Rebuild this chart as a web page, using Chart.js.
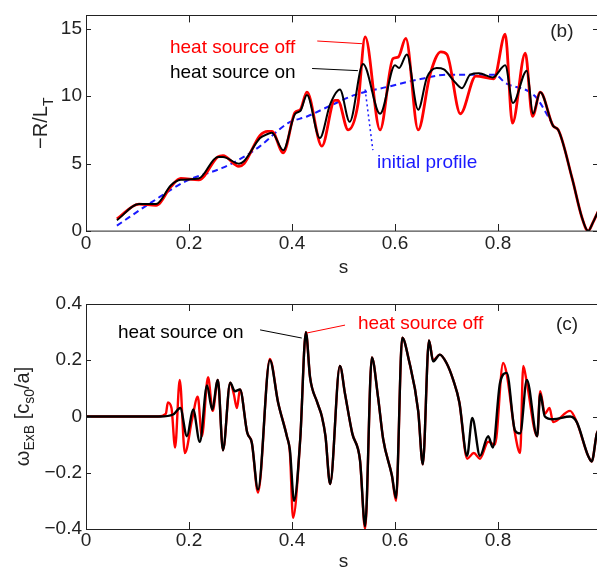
<!DOCTYPE html>
<html>
<head>
<meta charset="utf-8">
<script src="https://cdn.jsdelivr.net/npm/chart.js@4.4.0/dist/chart.umd.min.js"></script>
<style>
  html, body { margin: 0; padding: 0; background: #fff; overflow: hidden; width: 597px; height: 569px; }
  canvas { position: absolute; left: 0; }
  #top { top: 0; }
  #bottom { top: 285px; }
</style>
</head>
<body>
<canvas id="top" width="605" height="285"></canvas>
<canvas id="bottom" width="605" height="290"></canvas>
<script>
// (b) normalised temperature gradient -R/L_T against s
const offS = [0.06, 0.103, 0.136, 0.165, 0.184, 0.219, 0.256, 0.266, 0.297, 0.307, 0.338, 0.353, 0.361, 0.383, 0.406, 0.416, 0.429, 0.458, 0.483, 0.489, 0.509, 0.528, 0.542, 0.571, 0.596, 0.606, 0.621, 0.645, 0.668, 0.689, 0.701, 0.727, 0.757, 0.792, 0.814, 0.828, 0.853, 0.867, 0.882, 0.907, 0.917, 0.944, 0.963, 0.975, 0.984, 0.995];
const offRLT = [0.9, 2.0, 1.9, 3.3, 3.9, 3.8, 5.5, 5.6, 4.8, 5.0, 7.1, 7.4, 7.4, 5.8, 8.8, 9.0, 10.3, 6.3, 9.7, 9.7, 7.5, 9.4, 14.4, 7.5, 12.8, 12.9, 14.3, 7.5, 11.6, 13.3, 13.1, 8.7, 11.5, 11.3, 14.6, 8.0, 13.2, 8.5, 10.3, 7.8, 7.5, 3.9, 1.0, 0, 0.6, 1.5];

const onS = [0.06, 0.103, 0.136, 0.165, 0.184, 0.219, 0.256, 0.266, 0.297, 0.307, 0.338, 0.353, 0.361, 0.383, 0.406, 0.416, 0.429, 0.454, 0.474, 0.493, 0.512, 0.538, 0.571, 0.600, 0.608, 0.623, 0.645, 0.662, 0.681, 0.695, 0.713, 0.730, 0.746, 0.763, 0.790, 0.814, 0.829, 0.856, 0.868, 0.882, 0.907, 0.917, 0.944, 0.963, 0.975, 0.984, 0.995];
const onRLT = [0.8, 2.0, 2.0, 3.4, 3.8, 3.9, 5.5, 5.5, 5.0, 5.2, 6.9, 7.2, 7.3, 6.0, 8.7, 8.9, 10.1, 6.9, 9.4, 10.5, 8.1, 12.4, 8.7, 12.3, 12.1, 13.1, 9.0, 11.4, 12.1, 12.0, 11.2, 10.6, 11.6, 11.7, 11.4, 12.3, 9.5, 11.9, 8.7, 10.3, 7.8, 7.5, 3.9, 1.0, 0, 0.6, 1.5];

const initS = [0.06, 0.13, 0.194, 0.266, 0.311, 0.338, 0.392, 0.429, 0.48, 0.522, 0.586, 0.652, 0.70, 0.794, 0.814, 0.872, 0.905];
const initRLT = [0.4, 2.2, 3.7, 4.7, 5.6, 6.3, 8.0, 8.5, 9.4, 10.1, 10.7, 11.3, 11.6, 11.6, 11.0, 10.0, 8.0];

// (c) E x B shearing rate against s
const wOnS = [0, 0.144, 0.169, 0.183, 0.196, 0.208, 0.221, 0.235, 0.245, 0.256, 0.266, 0.280, 0.289, 0.299, 0.313, 0.322, 0.334, 0.357, 0.373, 0.39, 0.396, 0.404, 0.416, 0.427, 0.435, 0.449, 0.458, 0.465, 0.474, 0.493, 0.503, 0.517, 0.532, 0.542, 0.555, 0.567, 0.577, 0.594, 0.602, 0.614, 0.627, 0.645, 0.654, 0.666, 0.674, 0.687, 0.70, 0.713, 0.725, 0.740, 0.75, 0.765, 0.781, 0.79, 0.804, 0.817, 0.833, 0.843, 0.856, 0.876, 0.882, 0.891, 0.907, 0.94, 0.953, 0.975, 0.982, 0.992, 1.0];
const wOn = [0, 0, 0.007, 0.03, -0.07, 0.025, -0.09, 0.11, 0.025, 0.13, -0.12, 0.12, 0.09, 0.096, -0.057, -0.093, -0.26, 0.20, 0.05, -0.07, -0.12, -0.30, -0.08, 0.30, 0.14, 0.05, 0, -0.07, -0.24, 0.18, 0.08, -0.06, -0.155, -0.39, 0.21, 0.07, -0.08, -0.21, -0.29, 0.28, 0.20, 0.02, -0.17, 0.27, 0.196, 0.22, 0.19, 0.13, 0.05, -0.14, -0.005, -0.14, -0.07, -0.11, 0.12, 0.155, -0.05, -0.06, 0.13, -0.07, 0.08, 0, -0.01, 0, -0.02, -0.14, -0.16, -0.06, -0.04];

const wOffS = [0, 0.14, 0.155, 0.159, 0.166, 0.173, 0.182, 0.192, 0.206, 0.217, 0.225, 0.237, 0.246, 0.256, 0.266, 0.28, 0.287, 0.293, 0.299, 0.313, 0.322, 0.334, 0.357, 0.373, 0.39, 0.396, 0.402, 0.416, 0.427, 0.435, 0.449, 0.458, 0.465, 0.474, 0.493, 0.503, 0.517, 0.532, 0.542, 0.555, 0.567, 0.577, 0.594, 0.602, 0.614, 0.627, 0.645, 0.654, 0.666, 0.674, 0.687, 0.70, 0.713, 0.725, 0.740, 0.753, 0.765, 0.781, 0.794, 0.81, 0.817, 0.833, 0.843, 0.849, 0.856, 0.876, 0.882, 0.891, 0.9, 0.907, 0.94, 0.953, 0.975, 0.982, 0.992, 1.0];
const wOff = [0, 0, 0.01, 0.05, 0.03, -0.11, 0.13, -0.13, -0.01, 0.07, -0.07, 0.14, 0.02, 0.13, -0.12, 0.12, 0.08, 0.03, 0.096, -0.057, -0.093, -0.27, 0.205, 0.05, -0.07, -0.13, -0.36, -0.08, 0.30, 0.14, 0.05, 0, -0.07, -0.24, 0.18, 0.08, -0.06, -0.155, -0.40, 0.21, 0.07, -0.08, -0.21, -0.30, 0.28, 0.20, 0.02, -0.17, 0.27, 0.20, 0.22, 0.19, 0.13, 0.05, -0.15, -0.13, -0.15, -0.09, -0.10, 0.19, 0.15, -0.06, -0.13, 0.18, 0.12, -0.07, 0.09, 0.01, 0.03, -0.02, 0.02, -0.02, -0.14, -0.16, -0.06, -0.04];

const xTicks = [0, 0.2, 0.4, 0.6, 0.8];
const xTickLabels = ['0', '0.2', '0.4', '0.6', '0.8'];
const yTicksB = [0, 5, 10, 15];
const yTickLabelsB = ['0', '5', '10', '15'];
const yTicksC = [-0.4, -0.2, 0, 0.2, 0.4];
const yTickLabelsC = ['\u22120.4', '\u22120.2', '0', '0.2', '0.4'];

const FONT = "'Liberation Sans', Arial, Helvetica, sans-serif";
Chart.defaults.font.family = FONT;
Chart.defaults.font.size = 19;
Chart.defaults.color = '#222';

const pts = (xs, ys) => xs.map((x, i) => ({x: x, y: ys[i]}));

// box round the axes with inward tick marks on all four sides
const frame = {
  id: 'frame',
  afterDatasetsDraw(chart) {
    const {ctx, chartArea: a, scales: {x, y}} = chart;
    ctx.save();
    ctx.strokeStyle = '#222';
    ctx.lineWidth = 1;
    ctx.strokeRect(Math.round(a.left) + 0.5, Math.round(a.top) + 0.5, a.right - a.left, a.bottom - a.top);
    ctx.beginPath();
    x.ticks.forEach(t => {
      const px = Math.round(x.getPixelForValue(t.value)) + 0.5;
      ctx.moveTo(px, a.top); ctx.lineTo(px, a.top + 7);
      ctx.moveTo(px, a.bottom); ctx.lineTo(px, a.bottom - 7);
    });
    y.ticks.forEach(t => {
      const py = Math.round(y.getPixelForValue(t.value)) + 0.5;
      ctx.moveTo(a.left, py); ctx.lineTo(a.left + 5, py);
      ctx.moveTo(a.right, py); ctx.lineTo(a.right - 8, py);
    });
    ctx.stroke();
    ctx.restore();
  }
};

// text labels and pointer lines placed in data coordinates
const notes = {
  id: 'notes',
  afterDatasetsDraw(chart, args, opts) {
    const {ctx, scales: {x, y}} = chart;
    ctx.save();
    (opts.lines || []).forEach(l => {
      ctx.strokeStyle = l.color;
      ctx.lineWidth = l.width || 1;
      ctx.setLineDash(l.dash || []);
      ctx.beginPath();
      l.pts.forEach((p, i) => {
        const px = x.getPixelForValue(p[0]), py = y.getPixelForValue(p[1]);
        if (i) ctx.lineTo(px, py); else ctx.moveTo(px, py);
      });
      ctx.stroke();
    });
    ctx.setLineDash([]);
    ctx.font = '19px ' + FONT;
    ctx.textBaseline = 'alphabetic';
    (opts.texts || []).forEach(t => {
      ctx.fillStyle = t.color;
      ctx.textAlign = t.align || 'left';
      ctx.fillText(t.text, x.getPixelForValue(t.x), y.getPixelForValue(t.y));
    });
    ctx.restore();
  }
};

// rotated y axis title with subscripts
const yTitle = {
  id: 'yTitle',
  afterDraw(chart, args, opts) {
    const {ctx, chartArea: a} = chart;
    const main = '20px ' + FONT, sub = '14px ' + FONT;
    ctx.save();
    let w = 0;
    opts.parts.forEach(p => { ctx.font = p.sub ? sub : main; w += ctx.measureText(p.text).width; });
    ctx.translate(opts.x, (a.top + a.bottom) / 2);
    ctx.rotate(-Math.PI / 2);
    ctx.fillStyle = opts.color;
    ctx.textBaseline = 'alphabetic';
    ctx.textAlign = 'left';
    let cx = -w / 2;
    opts.parts.forEach(p => {
      ctx.font = p.sub ? sub : main;
      ctx.fillText(p.text, cx, p.sub ? opts.subShift : 0);
      cx += ctx.measureText(p.text).width;
    });
    ctx.restore();
  }
};

function xScale(height, tickPad, titlePad) {
  return {
    type: 'linear', min: 0, max: 1,
    grid: {display: false, drawTicks: false},
    border: {display: false},
    ticks: {padding: tickPad, autoSkip: false, maxRotation: 0, callback: (v, i) => xTickLabels[i]},
    afterBuildTicks: s => { s.ticks = xTicks.map(v => ({value: v})); },
    afterFit: s => { s.height = height; },
    title: {display: true, text: 's', color: '#222', padding: {top: 0, bottom: titlePad}}
  };
}

function yScale(min, max, ticks, labels) {
  return {
    type: 'linear', min: min, max: max,
    grid: {display: false, drawTicks: false},
    border: {display: false},
    ticks: {padding: 4, autoSkip: false, callback: (v, i) => labels[i]},
    afterBuildTicks: s => { s.ticks = ticks.map(v => ({value: v})); },
    afterFit: s => { s.width = 86; }
  };
}

const line = (label, data, color, width, order, extra) => Object.assign({
  label: label, data: data, borderColor: color, borderWidth: width,
  pointRadius: 0, fill: false, order: order, cubicInterpolationMode: 'monotone'
}, extra || {});

new Chart(document.getElementById('top'), {
  type: 'line',
  data: {
    datasets: [
      line('heat source on', pts(onS, onRLT), '#000', 2, 0),
      line('heat source off', pts(offS, offRLT), '#ff0000', 2.8, 1),
      line('initial profile', pts(initS, initRLT), '#1a1aff', 2, 2, {borderDash: [6, 4]})
    ]
  },
  options: {
    responsive: false, animation: false, events: [],
    layout: {padding: {top: 7, right: 4, left: 0, bottom: 0}},
    scales: {x: xScale(54, 1, 6), y: yScale(0, 16, yTicksB, yTickLabelsB)},
    plugins: {
      legend: {display: false}, tooltip: {enabled: false},
      notes: {
        texts: [
          {text: 'heat source off', x: 0.163, y: 13.2, color: '#ff0000'},
          {text: 'heat source on', x: 0.163, y: 11.34, color: '#000'},
          {text: 'initial profile', x: 0.565, y: 4.66, color: '#1a1aff'},
          {text: '(b)', x: 0.924, y: 14.39, color: '#222', align: 'center'}
        ],
        lines: [
          {pts: [[0.449, 14.1], [0.536, 13.9]], color: '#ff0000'},
          {pts: [[0.439, 12.06], [0.528, 11.9]], color: '#000'},
          {pts: [[0.542, 10.5], [0.557, 6.0]], color: '#1a1aff', width: 1.5, dash: [2, 3]}
        ]
      },
      yTitle: {x: 47, subShift: 6, color: '#222', parts: [{text: '\u2212R/L'}, {text: 'T', sub: true}]}
    }
  },
  plugins: [frame, notes, yTitle]
});

new Chart(document.getElementById('bottom'), {
  type: 'line',
  data: {
    datasets: [
      line('heat source on', pts(wOnS, wOn), '#000', 2.4, 0),
      line('heat source off', pts(wOffS, wOff), '#ff0000', 2.4, 1)
    ]
  },
  options: {
    responsive: false, animation: false, events: [],
    layout: {padding: {top: 19, right: 4, left: 0, bottom: 0}},
    scales: {x: xScale(46, 0, 2), y: yScale(-0.4, 0.4, yTicksC, yTickLabelsC)},
    plugins: {
      legend: {display: false}, tooltip: {enabled: false},
      notes: {
        texts: [
          {text: 'heat source on', x: 0.062, y: 0.279, color: '#000'},
          {text: 'heat source off', x: 0.528, y: 0.311, color: '#ff0000'},
          {text: '(c)', x: 0.934, y: 0.308, color: '#222', align: 'center'}
        ],
        lines: [
          {pts: [[0.338, 0.308], [0.419, 0.279]], color: '#000'},
          {pts: [[0.429, 0.297], [0.503, 0.325]], color: '#ff0000'}
        ]
      },
      yTitle: {x: 29, subShift: 5, color: '#222', parts: [{text: '\u03c9'}, {text: 'ExB', sub: true}, {text: ' [c'}, {text: 's0', sub: true}, {text: '/a]'}]}
    }
  },
  plugins: [frame, notes, yTitle]
});
</script>
</body>
</html>
